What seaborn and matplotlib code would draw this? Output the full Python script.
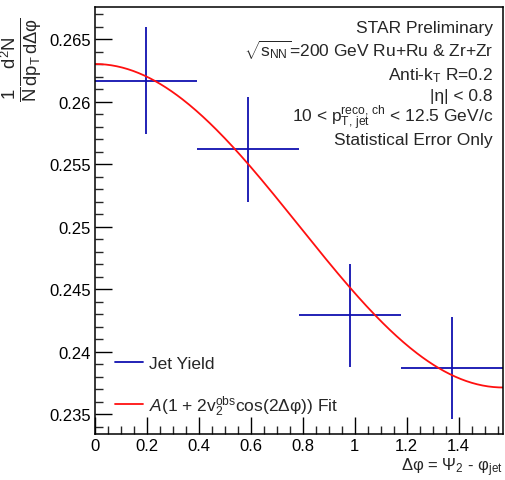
import numpy as np
import pandas as pd
import matplotlib
matplotlib.use("Agg")
import matplotlib.pyplot as plt
from matplotlib.lines import Line2D
from matplotlib.ticker import MultipleLocator
import seaborn as sns

# ---- data ----
dphi_centers = [0.196, 0.589, 0.982, 1.374]
dphi_halfwidth = [0.196, 0.196, 0.196, 0.196]
jet_yield = [0.2617, 0.2562, 0.2429, 0.2387]
stat_err = [0.0043, 0.0042, 0.0041, 0.0041]
fit_A = 0.25008
fit_v2 = 0.0259
x_min, x_max = 0.0, np.pi / 2
y_min, y_max = 0.2334, 0.2676

sns.set_theme(style="ticks")
plt.rcParams['font.family'] = ['Liberation Sans', 'DejaVu Sans']
plt.rcParams['mathtext.fontset'] = 'custom'
plt.rcParams['mathtext.rm'] = 'Liberation Sans'
plt.rcParams['mathtext.it'] = 'Liberation Sans:italic'
plt.rcParams['mathtext.bf'] = 'Liberation Sans:bold'
plt.rcParams['mathtext.sf'] = 'Liberation Sans'

W, H = 505, 481
fig = plt.figure(figsize=(W / 100, H / 100), dpi=100)
ax = fig.add_axes([95 / W, 1 - 435 / H, (503 - 95) / W, (435 - 8) / H])

df = pd.DataFrame({"x": dphi_centers, "y": jet_yield, "xerr": dphi_halfwidth, "yerr": stat_err})
blue = '#1010b0'
ax.errorbar(df["x"], df["y"], xerr=df["xerr"], yerr=df["yerr"], fmt='none',
            ecolor=blue, elinewidth=1.3, capsize=0)

xf = np.linspace(x_min, x_max, 300)
fit_df = pd.DataFrame({"x": xf, "y": fit_A * (1 + 2 * fit_v2 * np.cos(2 * xf))})
sns.lineplot(data=fit_df, x="x", y="y", ax=ax, color='#ff1010', linewidth=1.3, legend=False)

ax.set_xlim(x_min, x_max)
ax.set_ylim(y_min, y_max)
ax.set_xlabel("")
ax.set_ylabel("")
ax.xaxis.set_major_locator(MultipleLocator(0.2))
ax.xaxis.set_minor_locator(MultipleLocator(0.05))
ax.yaxis.set_major_locator(MultipleLocator(0.005))
ax.yaxis.set_minor_locator(MultipleLocator(0.001))
ax.xaxis.set_major_formatter(plt.FuncFormatter(lambda v, p: f"{v:g}"))
ax.yaxis.set_major_formatter(plt.FuncFormatter(lambda v, p: f"{v:g}"))
ax.tick_params(axis='both', which='major', direction='in', length=12, width=1.0,
               labelsize=12, colors='black', pad=3)
ax.tick_params(axis='both', which='minor', direction='in', length=6, width=1.0)
ax.tick_params(top=False, right=False, which='both')
for s in ax.spines.values():
    s.set_visible(True)
    s.set_linewidth(1.1)
    s.set_color('black')

# axis titles
fig.text(503 / W, 1 - 468 / H, r"Δφ = Ψ$_{2}$ - φ$_{\mathrm{jet}}$",
         ha='right', va='center', fontsize=12)
fig.text(22 / W, 1 - 60 / H,
         r"$\frac{1}{\mathrm{N}}\frac{\mathrm{d^{2}N}}{\mathrm{dp_{T}\,dΔφ}}$",
         ha='center', va='center', rotation=90, fontsize=19)

# annotation block
tx = 493 / W
lines = [
    ("STAR Preliminary", 28),
    (r"$\sqrt{\mathrm{s_{NN}}}$=200 GeV Ru+Ru & Zr+Zr", 50),
    (r"Anti-k$_{\mathrm{T}}$ R=0.2", 76),
    ("|η| < 0.8", 97),
    (r"10 < $\mathrm{p_{T,\,jet}^{reco,\,ch}}$ < 12.5 GeV/c", 118),
    ("Statistical Error Only", 140),
]
for txt, yp in lines:
    fig.text(tx, 1 - yp / H, txt, ha='right', va='center', fontsize=12.5)

handles = [Line2D([], [], color=blue, lw=1.3),
           Line2D([], [], color='#ff1010', lw=1.3)]
labels = ["Jet Yield", r"$A$(1 + 2$\mathrm{v_{2}^{obs}}$cos(2Δφ)) Fit"]
ax.legend(handles, labels, loc='lower left', bbox_to_anchor=(0.02, 0.01), frameon=False,
          fontsize=12.5, handlelength=1.6, handletextpad=0.35, labelspacing=1.25,
          borderaxespad=0.3)

fig.savefig("out.png", dpi=100)
